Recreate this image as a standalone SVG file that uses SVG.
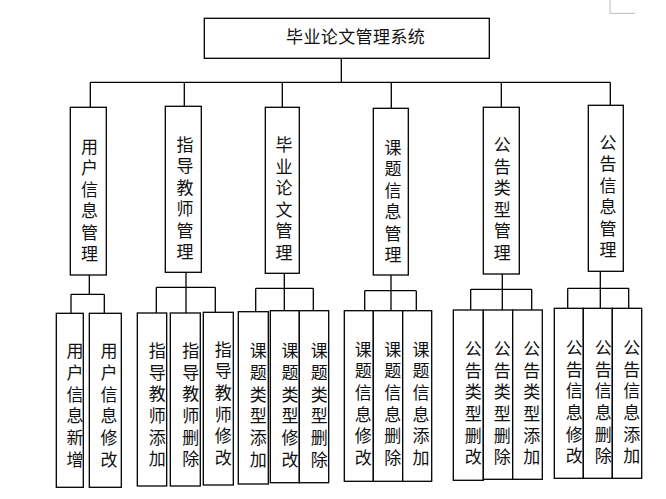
<svg xmlns="http://www.w3.org/2000/svg" width="666" height="499" viewBox="0 0 666 499">
<style>
.b{fill:#fff;stroke:#000;stroke-width:1.3}
.t{font-family:"Noto Sans CJK SC","Noto Sans",sans-serif;font-size:17px;fill:#111}
.v{writing-mode:vertical-rl;text-orientation:upright;letter-spacing:4.5px}
.w{letter-spacing:4.7px}
.c{fill:none;stroke:#000;stroke-width:1.3}
</style>
<rect width="666" height="499" fill="#fff"/>
<path d="M610,0V13.3H635" fill="none" stroke="#bbb" stroke-width="1"/>
<g id="connectors" class="c">
<path d="M341.3,58.3V82.3M90.3,82.3H610.3M90.3,82.3V107.3M184.3,82.3V106.3M282.3,82.3V107.3M391.3,82.3V108.3M501.3,82.3V107.3M610.3,82.3V105.3"/>
<path d="M89.3,275V294.3M71,294.3H104.3M71,294.3V313.3M104.3,294.3V313.3"/>
<path d="M186,272.3V313M156.3,287.3H215.3M156.3,287.3V313M215.3,287.3V312.3"/>
<path d="M284.3,273.3V310.7M255.7,288.3H313.3M255.7,288.3V311.7M313.3,288.3V310.7"/>
<path d="M391,275V310.7M364.7,290.7H416.3M364.7,290.7V310.7M416.3,290.7V310.7"/>
<path d="M502.3,274V310M470.7,289.3H531.7M470.7,289.3V310M531.7,289.3V310"/>
<path d="M600.3,271.3V308.3M567.7,288.3H628.7M567.7,288.3V308.3M628.7,288.3V308.3"/>
</g>
<g id="root"><rect class="b" x="204.3" y="18.3" width="285" height="40"/><text class="t" x="286" y="43" letter-spacing="0.4">毕业论文管理系统</text></g>

<g id="n1"><rect class="b" x="70.3" y="107.3" width="36" height="167.7"/><text class="t v" x="89.5" y="138">用户信息管理</text></g>
<g id="n2"><rect class="b" x="165.3" y="106.3" width="36" height="166"/><text class="t v" x="185" y="135.7">指导教师管理</text></g>
<g id="n3"><rect class="b" x="265.3" y="107.3" width="34" height="166"/><text class="t v" x="284" y="136.3">毕业论文管理</text></g>
<g id="n4"><rect class="b" x="373.3" y="108.3" width="35" height="166.7"/><text class="t v" x="393" y="139">课题信息管理</text></g>
<g id="n5"><rect class="b" x="483.3" y="107.3" width="36" height="166.7"/><text class="t v" x="502.3" y="136.3">公告类型管理</text></g>
<g id="n6"><rect class="b" x="588.3" y="105.3" width="35" height="166"/><text class="t v" x="608" y="134">公告信息管理</text></g>

<g id="n1a"><rect class="b" x="56.3" y="313.3" width="27" height="174"/><text class="t v w" x="75" y="342.3">用户信息新增</text></g>
<g id="n1b"><rect class="b" x="89.3" y="313.3" width="32" height="174"/><text class="t v w" x="109" y="342.3">用户信息修改</text></g>

<g id="n2a"><rect class="b" x="137.3" y="313" width="29.4" height="173"/><text class="t v w" x="157.3" y="342">指导教师添加</text></g>
<g id="n2b"><rect class="b" x="170.3" y="313" width="30" height="173"/><text class="t v w" x="190.7" y="342">指导教师删除</text></g>
<g id="n2c"><rect class="b" x="203.3" y="312.3" width="30" height="172.7"/><text class="t v w" x="223.3" y="340.7">指导教师修改</text></g>

<g id="n3a"><rect class="b" x="238.3" y="311.7" width="30" height="172.3"/><text class="t v w" x="258.3" y="342.3">课题类型添加</text></g>
<g id="n3b"><rect class="b" x="270.3" y="310.7" width="29" height="172"/><text class="t v w" x="290" y="342.3">课题类型修改</text></g>
<g id="n3c"><rect class="b" x="299.3" y="310.7" width="29.4" height="172"/><text class="t v w" x="319.3" y="342.3">课题类型删除</text></g>

<g id="n4a"><rect class="b" x="344.3" y="310.7" width="29" height="170.6"/><text class="t v w" x="363.3" y="340.7">课题信息修改</text></g>
<g id="n4b"><rect class="b" x="373.3" y="310.7" width="29.4" height="170.6"/><text class="t v w" x="392.7" y="340.7">课题信息删除</text></g>
<g id="n4c"><rect class="b" x="402.7" y="310.7" width="29" height="170.6"/><text class="t v w" x="421" y="340.7">课题信息添加</text></g>

<g id="n5a"><rect class="b" x="453.3" y="310" width="30" height="170.3"/><text class="t v w" x="473.3" y="340">公告类型删改</text></g>
<g id="n5b"><rect class="b" x="483.3" y="310" width="29.4" height="169.3"/><text class="t v w" x="502.3" y="340">公告类型删除</text></g>
<g id="n5c"><rect class="b" x="512.7" y="310" width="29.6" height="169.3"/><text class="t v w" x="531.7" y="340">公告类型添加</text></g>

<g id="n6a"><rect class="b" x="554.3" y="308.3" width="29" height="170"/><text class="t v w" x="574.3" y="339">公告信息修改</text></g>
<g id="n6b"><rect class="b" x="583.3" y="308.3" width="29" height="170"/><text class="t v w" x="603.3" y="339">公告信息删除</text></g>
<g id="n6c"><rect class="b" x="612.3" y="308.3" width="29.4" height="170"/><text class="t v w" x="631.7" y="339">公告信息添加</text></g>
</svg>
